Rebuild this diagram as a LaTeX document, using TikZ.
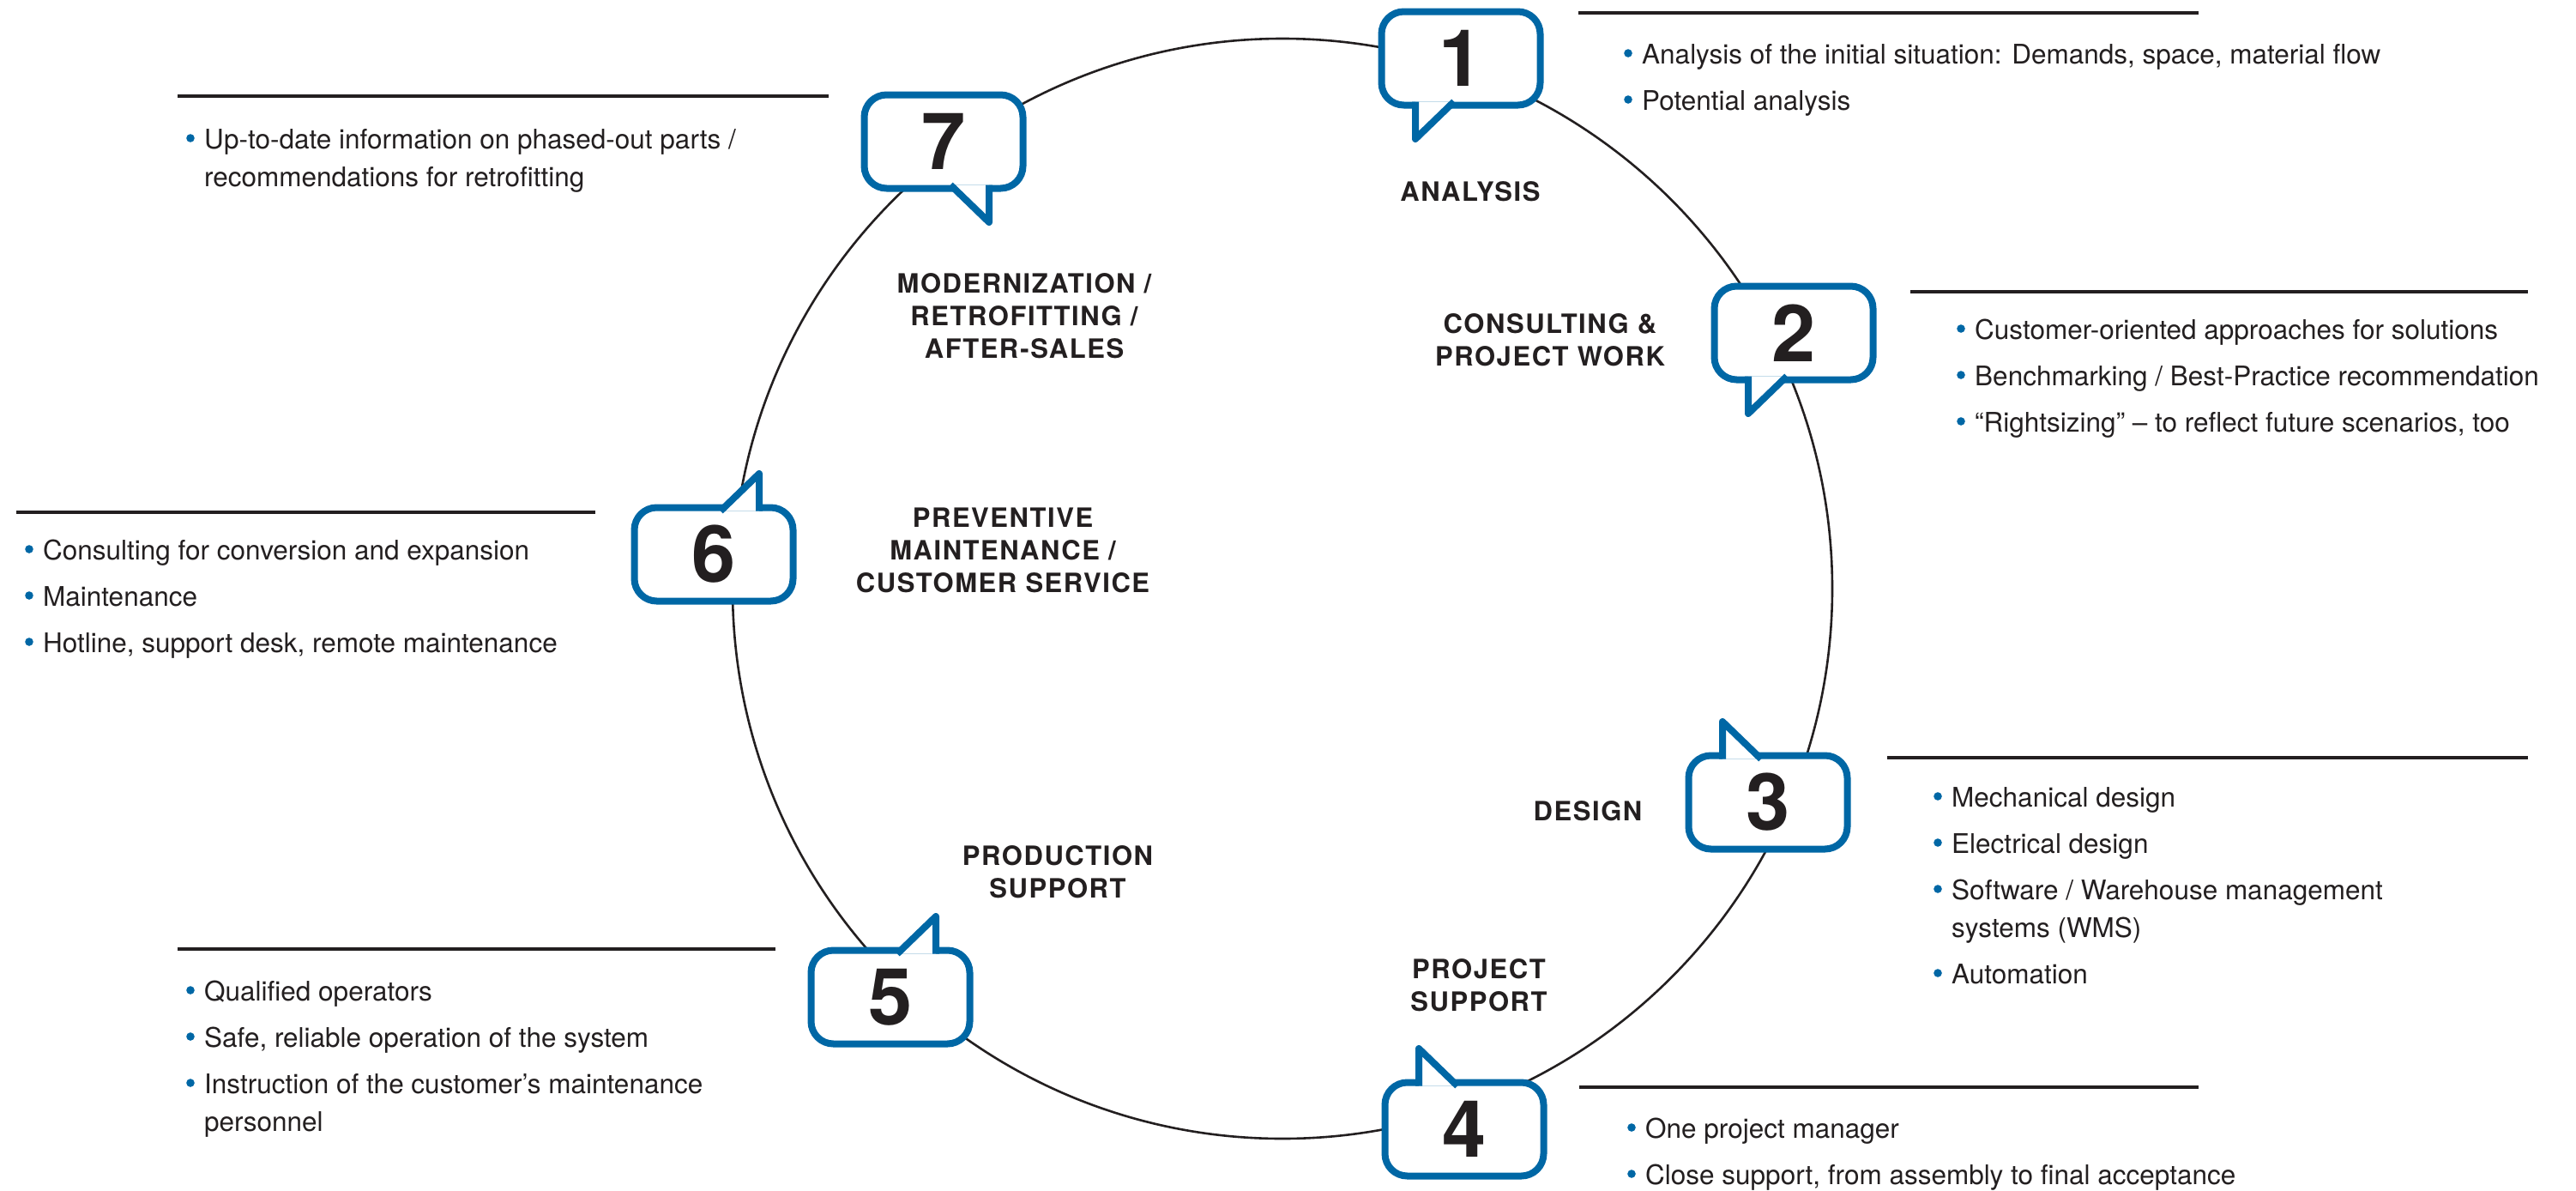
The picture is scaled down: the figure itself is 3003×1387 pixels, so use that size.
\documentclass[tikz,border=0pt]{standalone}
\usepackage{fontspec}
\setmainfont{TeX Gyre Heros}
\newfontfamily\capsfam{TeX Gyre Heros}[LetterSpace=5]
\usepackage{tikz}
\usetikzlibrary{calc}

\definecolor{bblue}{RGB}{0,103,165}
\definecolor{ink}{RGB}{35,31,32}

\newcommand{\bodyfont}{\fontsize{31.5}{44}\selectfont}
\newcommand{\phasefont}{\capsfam\bfseries\fontsize{31}{38}\selectfont}
\newcommand{\numfont}{\bfseries\fontsize{92}{92}\selectfont}
\newcommand{\blt}{\makebox[21pt][l]{\tikz[baseline=0pt]\fill[bblue] (5pt,12pt) circle[radius=4.8pt];}}
\newcommand{\nob}{\hspace*{21pt}}

% name, x, y, digit, side of tail (x), side of tail (y)
\newcommand{\bubble}[6]{%
	\node[bubble] (#1) at (#2,#3) {#4};
	\fill[white] ($(#1.center)+(#5*53,#6*50.5)$) -- ($(#1.center)+(#5*53,#6*94)$) -- ($(#1.center)+(#5*8,#6*50.5)$) -- cycle;
	\draw[tail] ($(#1.center)+(#5*53,#6*50.5)$) -- ($(#1.center)+(#5*53,#6*94)$) -- ($(#1.center)+(#5*8,#6*50.5)$);
}

\begin{document}
\begin{tikzpicture}[x=1pt, y=-1pt,
	bubble/.style={draw=bblue, line width=8pt, fill=white, rounded corners=26pt, minimum width=185pt, minimum height=109pt, inner sep=0pt, text=ink, font=\numfont},
	tail/.style={draw=bblue, line width=8pt, line join=round},
	phase/.style={anchor=base, align=center, text=ink, inner sep=0pt, font=\phasefont},
	notes/.style={anchor=base west, align=left, text=ink, inner sep=0pt, font=\bodyfont},
	rule/.style={draw=ink, line width=3.5pt}]
	\fill[white] (0,0) rectangle (3003,1387);
	\useasboundingbox (0,0) rectangle (3003,1387);

	\coordinate (hub) at (1495,686);
	\draw[ink, line width=2.6pt] (hub) circle[radius=641pt];

	\bubble{b1}{1703}{68}{1}{-1}{1}
	\bubble{b2}{2091}{388}{2}{-1}{1}
	\bubble{b3}{2061}{935}{3}{-1}{-1}
	\bubble{b4}{1707}{1316}{4}{-1}{-1}
	\bubble{b5}{1038}{1162}{5}{1}{-1}
	\bubble{b6}{832}{646}{6}{1}{-1}
	\bubble{b7}{1100}{165}{7}{1}{1}

	% anchors sit on the last line
	\node[phase] (ph1) at (1714,234) {ANALYSIS};
	\node[phase] (ph2) at (1807,426) {CONSULTING \&\\PROJECT WORK};
	\node[phase] (ph3) at (1851,956) {DESIGN};
	\node[phase] (ph4) at (1724,1178) {PROJECT\\SUPPORT};
	\node[phase] (ph5) at (1233,1046) {PRODUCTION\\SUPPORT};
	\node[phase] (ph6) at (1169,690) {PREVENTIVE\\MAINTENANCE /\\CUSTOMER SERVICE};
	\node[phase] (ph7) at (1194,417) {MODERNIZATION /\\RETROFITTING /\\AFTER-SALES};

	\draw[rule] (1840,15) -- (2563,15);
	\draw[rule] (2227,340) -- (2947,340);
	\draw[rule] (2200,883) -- (2947,883);
	\draw[rule] (1841,1267) -- (2563,1267);
	\draw[rule] (207,1106) -- (904,1106);
	\draw[rule] (19,597) -- (694,597);
	\draw[rule] (207,112) -- (966,112);

	\node[notes] (nt1) at (1893,128) {\blt Analysis of the initial situation: Demands, space, material flow\\[10pt]\blt Potential analysis};
	\node[notes] (nt2) at (2281,503) {\blt Customer-oriented approaches for solutions\\[10pt]\blt Benchmarking / Best-Practice recommendation\\[10pt]\blt “Rightsizing” – to reflect future scenarios, too};
	\node[notes] (nt3) at (2254,1146) {\blt Mechanical design\\[10pt]\blt Electrical design\\[10pt]\blt Software / Warehouse management\\\nob systems (WMS)\\[10pt]\blt Automation};
	\node[notes] (nt4) at (1897,1380) {\blt One project manager\\[10pt]\blt Close support, from assembly to final acceptance};
	\node[notes] (nt5) at (217,1318) {\blt Qualified operators\\[10pt]\blt Safe, reliable operation of the system\\[10pt]\blt Instruction of the customer’s maintenance\\\nob personnel};
	\node[notes] (nt6) at (29,760) {\blt Consulting for conversion and expansion\\[10pt]\blt Maintenance\\[10pt]\blt Hotline, support desk, remote maintenance};
	\node[notes] (nt7) at (217,217) {\blt Up-to-date information on phased-out parts /\\\nob recommendations for retrofitting};
\end{tikzpicture}
\end{document}
